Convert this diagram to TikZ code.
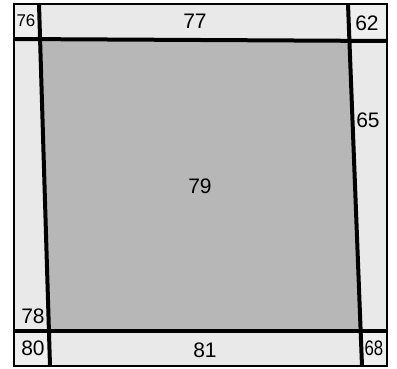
\documentclass[tikz,border=0pt]{standalone}
\usepackage{fontspec}
\setmainfont{Liberation Sans}
\usetikzlibrary{calc}
\definecolor{StripGray}{HTML}{E9E9E9}
\definecolor{CornerGray}{HTML}{EFEFEF}
\definecolor{CoreGray}{HTML}{B7B7B7}

\begin{document}
\begin{tikzpicture}[x=1pt,y=-1pt,line cap=butt,line join=miter,
  num/.style={font=\fontsize{21}{21}\selectfont,inner sep=0pt},
  small/.style={font=\fontsize{17}{17}\selectfont,inner sep=0pt}]
  \useasboundingbox (0,0) rectangle (397,369);
  \coordinate (O1) at (14,4);\coordinate (O2) at (387,4);\coordinate (O3) at (387,366);\coordinate (O4) at (14,366);
  \coordinate (L1) at (39,4);\coordinate (L2) at (50,366);
  \coordinate (R1) at (348,4);\coordinate (R2) at (362,366);
  \coordinate (T1) at (14,39);\coordinate (T2) at (387,41);
  \coordinate (B1) at (14,331);\coordinate (B2) at (387,331);
  \coordinate (A) at (40.1,39.1);\coordinate (B) at (349.4,40.9);
  \coordinate (C) at (360.6,331);\coordinate (D) at (48.9,331);
  % strips and corners
  \fill[StripGray] (O1) rectangle (O3);
  \fill[CornerGray] (O1) -- (L1) -- (A) -- (T1) -- cycle;
  \fill[CornerGray] (R1) -- (O2) -- (T2) -- (B) -- cycle;
  \fill[CornerGray] (B1) -- (D) -- (L2) -- (O4) -- cycle;
  \fill[CornerGray] (C) -- (B2) -- (O3) -- (R2) -- cycle;
  \fill[CoreGray] (A) -- (B) -- (C) -- (D) -- cycle;
  % lines
  \draw[line width=4pt] (T1)--(T2);
  \draw[line width=4pt] (B1)--(B2);
  \draw[line width=4pt] (L1)--(L2);
  \draw[line width=4pt] (R1)--(R2);
  \draw[line width=2.5pt] (O1) rectangle (O3);
  % numbers
  \node[small] (n76) at (26,21) {76};
  \node[num] (n77) at (195,21) {77};
  \node[num] (n62) at (367,23) {62};
  \node[num] (n65) at (368,120) {65};
  \node[num] (n79) at (200,186) {79};
  \node[num] (n78) at (33,316) {78};
  \node[num] (n80) at (33,348) {80};
  \node[num] (n81) at (205,350) {81};
  \node[num,xscale=.8] (n68) at (374,348) {68};
\end{tikzpicture}
\end{document}
